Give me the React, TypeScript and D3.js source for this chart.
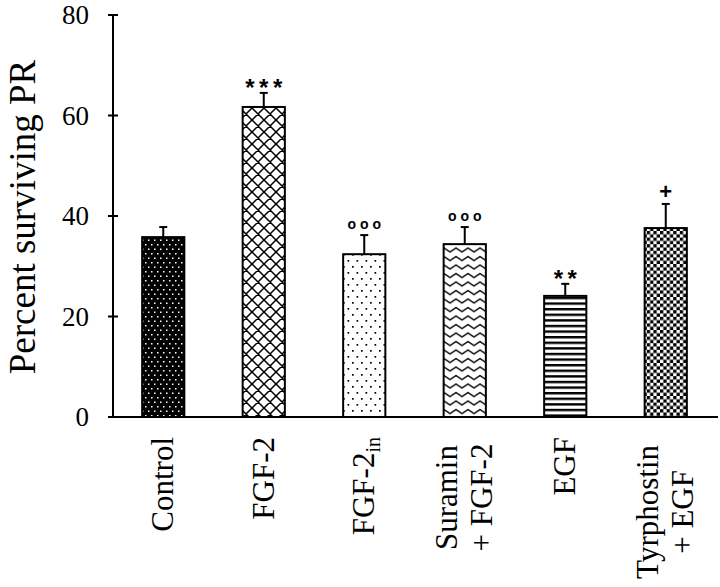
import React, { useEffect, useRef } from "react";
import * as d3 from "d3";

const categories = ["Control", "FGF-2", "FGF-2in", "Suramin + FGF-2", "EGF", "Tyrphostin + EGF"];
const labelLines: string[][] = [["Control"], ["FGF-2"], ["FGF-2", "in"], ["Suramin", "+ FGF-2"], ["EGF"], ["Tyrphostin", "+ EGF"]];
const means = [35.8, 61.7, 32.4, 34.4, 24.1, 37.6];
const errors = [2.0, 2.8, 3.8, 3.4, 2.4, 4.8];
const circleMarks = ["", "", "ooo", "ooo", "", ""];
const starMarks = ["", "***", "", "", "**", "+"];
const patternIds = ["pDotsDark", "pCross", "pDotsLight", "pZig", "pStripes", "pChecker"];
const yTicks = [0, 20, 40, 60, 80];

const W = 720, H = 587;
const serif = "'Liberation Serif', 'Times New Roman', serif";
const sans = "'Liberation Sans', Arial, sans-serif";

export default function App() {
  const ref = useRef<SVGSVGElement>(null);
  useEffect(() => {
    const svg = d3.select(ref.current);
    svg.selectAll("*").remove();
    const x = d3.scaleBand<string>().domain(categories).range([113, 716]).paddingInner(0.58).paddingOuter(0.29);
    const y = d3.scaleLinear().domain([0, 80]).range([417, 15]);

    const defs = svg.append("defs");
    let p = defs.append("pattern").attr("id", "pDotsDark").attr("patternUnits", "userSpaceOnUse").attr("width", 6).attr("height", 9);
    p.append("rect").attr("width", 6).attr("height", 9).attr("fill", "#000");
    p.append("rect").attr("x", 1).attr("y", 1).attr("width", 1.5).attr("height", 1.5).attr("fill", "#fff");
    p.append("rect").attr("x", 4).attr("y", 5.5).attr("width", 1.5).attr("height", 1.5).attr("fill", "#fff");

    p = defs.append("pattern").attr("id", "pCross").attr("patternUnits", "userSpaceOnUse").attr("width", 12).attr("height", 12);
    p.append("rect").attr("width", 12).attr("height", 12).attr("fill", "#fff");
    p.append("path").attr("d", "M0,0L12,12M12,0L0,12M-1,11L1,13M11,-1L13,1M-1,1L1,-1M11,13L13,11").attr("stroke", "#000").attr("stroke-width", 1.5);

    p = defs.append("pattern").attr("id", "pDotsLight").attr("patternUnits", "userSpaceOnUse").attr("width", 9).attr("height", 12);
    p.append("rect").attr("width", 9).attr("height", 12).attr("fill", "#fff");
    p.append("rect").attr("x", 1).attr("y", 2).attr("width", 1.7).attr("height", 1.7).attr("fill", "#000");
    p.append("rect").attr("x", 5.5).attr("y", 8).attr("width", 1.7).attr("height", 1.7).attr("fill", "#000");

    p = defs.append("pattern").attr("id", "pZig").attr("patternUnits", "userSpaceOnUse").attr("width", 12).attr("height", 8.5);
    p.append("rect").attr("width", 12).attr("height", 8.5).attr("fill", "#fff");
    p.append("path").attr("d", "M-3,5L0,1.5L6,5.5L12,1.5L15,5").attr("fill", "none").attr("stroke", "#000").attr("stroke-width", 1.5);

    p = defs.append("pattern").attr("id", "pStripes").attr("patternUnits", "userSpaceOnUse").attr("width", 6).attr("height", 5.6);
    p.append("rect").attr("width", 6).attr("height", 5.6).attr("fill", "#fff");
    p.append("rect").attr("y", 0).attr("width", 6).attr("height", 2.4).attr("fill", "#000");

    p = defs.append("pattern").attr("id", "pChecker").attr("patternUnits", "userSpaceOnUse").attr("width", 6.6).attr("height", 6.6);
    p.append("rect").attr("width", 6.6).attr("height", 6.6).attr("fill", "#fff");
    p.append("rect").attr("width", 3.3).attr("height", 3.3).attr("fill", "#000");
    p.append("rect").attr("x", 3.3).attr("y", 3.3).attr("width", 3.3).attr("height", 3.3).attr("fill", "#000");

    const g = svg.append("g");
    categories.forEach((c, i) => {
      const x0 = x(c)!;
      const bw = x.bandwidth();
      const cx = x0 + bw / 2;
      const top = y(means[i] + errors[i]);
      g.append("line").attr("x1", cx).attr("x2", cx).attr("y1", y(means[i])).attr("y2", top).attr("stroke", "#000").attr("stroke-width", 2);
      g.append("line").attr("x1", cx - 4).attr("x2", cx + 4).attr("y1", top).attr("y2", top).attr("stroke", "#000").attr("stroke-width", 2);
      g.append("rect").attr("x", x0).attr("y", y(means[i])).attr("width", bw).attr("height", y(0) - y(means[i]))
        .attr("fill", `url(#${patternIds[i]})`).attr("stroke", "#000").attr("stroke-width", 2);
      if (circleMarks[i]) {
        g.append("text").attr("x", cx + 2).attr("y", top - 6.5).attr("text-anchor", "middle")
          .attr("font-family", sans).attr("font-weight", "bold").attr("font-size", 14)
          .attr("letter-spacing", 4).text(circleMarks[i]);
      }
      if (starMarks[i]) {
        const isPlus = starMarks[i] === "+";
        g.append("text").attr("x", cx + (isPlus ? 0 : 2.25)).attr("y", isPlus ? top - 5 : top + 3).attr("text-anchor", "middle")
          .attr("font-family", sans).attr("font-weight", "bold").attr("font-size", isPlus ? 22 : 24)
          .attr("letter-spacing", isPlus ? 0 : 4.5).text(starMarks[i]);
      }
    });

    svg.append("line").attr("x1", 113).attr("x2", 718).attr("y1", y(0)).attr("y2", y(0)).attr("stroke", "#000").attr("stroke-width", 2);
    svg.append("line").attr("x1", 113).attr("x2", 113).attr("y1", y(0)).attr("y2", y(80)).attr("stroke", "#000").attr("stroke-width", 2);
    yTicks.forEach((t) => {
      svg.append("line").attr("x1", 108).attr("x2", 118).attr("y1", y(t)).attr("y2", y(t)).attr("stroke", "#000").attr("stroke-width", 2);
      svg.append("text").attr("x", 89).attr("y", y(t)).attr("dy", "0.34em").attr("text-anchor", "end")
        .attr("font-family", serif).attr("font-size", 27).text(String(t));
    });
    svg.append("text").attr("transform", `translate(35,217) rotate(-90)`).attr("text-anchor", "middle")
      .attr("font-family", serif).attr("font-size", 37).text("Percent surviving PR");

    categories.forEach((c, i) => {
      const cx = x(c)! + x.bandwidth() / 2;
      const lines = labelLines[i];
      if (c === "FGF-2in") {
        const t = svg.append("text").attr("transform", `translate(${cx + 10},437) rotate(-90)`).attr("text-anchor", "end")
          .attr("font-family", serif).attr("font-size", 31);
        t.append("tspan").text(lines[0]);
        t.append("tspan").attr("font-size", 20).attr("dy", 6).text(lines[1]);
      } else if (lines.length === 1) {
        svg.append("text").attr("transform", `translate(${cx + 10},437) rotate(-90)`).attr("text-anchor", "end")
          .attr("font-family", serif).attr("font-size", 31).text(lines[0]);
      } else {
        const t1 = svg.append("text").attr("transform", `translate(${cx - 8},445) rotate(-90)`).attr("text-anchor", "end")
          .attr("font-family", serif).attr("font-size", 31).text(lines[0]);
        const len = (t1.node() as SVGTextElement).getComputedTextLength();
        svg.append("text").attr("transform", `translate(${cx + 27},${445 + len / 2}) rotate(-90)`).attr("text-anchor", "middle")
          .attr("font-family", serif).attr("font-size", 31).text(lines[1]);
      }
    });
  }, []);
  return (
    <svg ref={ref} width={W} height={H} style={{ position: "absolute", left: 0, top: 0, background: "#fff" }} />
  );
}
